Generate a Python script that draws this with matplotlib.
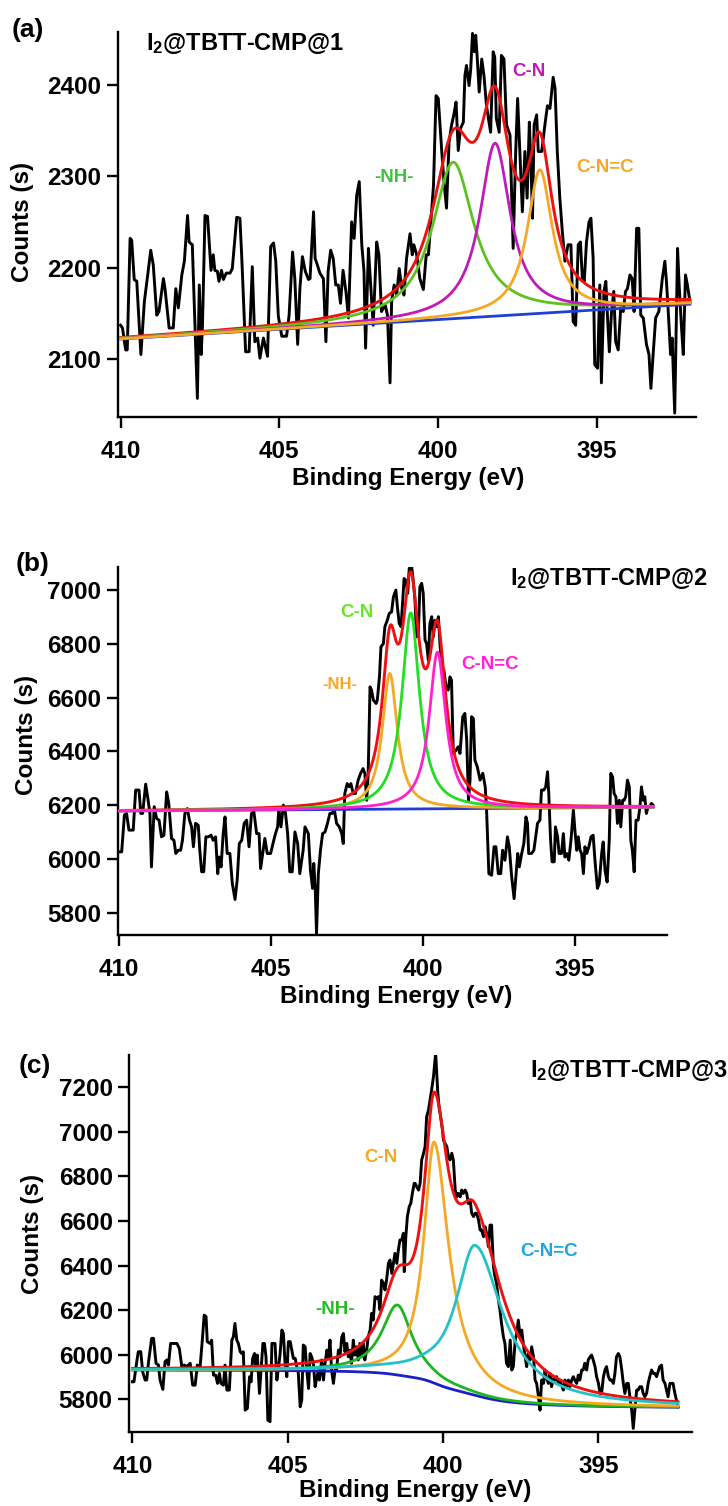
import numpy as np
import matplotlib
matplotlib.use("Agg")
import matplotlib.pyplot as plt

plt.rcParams['font.family'] = ['Liberation Sans', 'DejaVu Sans']
plt.rcParams['font.weight'] = 'bold'
plt.rcParams['mathtext.fontset'] = 'custom'
plt.rcParams['mathtext.rm'] = 'Liberation Sans:bold'
plt.rcParams['mathtext.it'] = 'Liberation Sans:bold'
plt.rcParams['mathtext.bf'] = 'Liberation Sans:bold'

# ---------------- measured spectra (binding energy eV, counts) ----------------
A_points = [
    (410.00, 2137), (409.94, 2134), (409.84, 2110), (409.79, 2110), (409.70, 2232), (409.65, 2230),
    (409.57, 2187), (409.49, 2185), (409.36, 2105), (409.25, 2163), (409.17, 2185), (409.05, 2219),
    (408.97, 2203), (408.86, 2148), (408.79, 2152), (408.65, 2188), (408.60, 2177), (408.47, 2134),
    (408.34, 2134), (408.26, 2177), (408.18, 2156), (408.07, 2192), (407.99, 2207), (407.89, 2257),
    (407.84, 2228), (407.74, 2225), (407.65, 2132), (407.58, 2057), (407.52, 2181), (407.46, 2105),
    (407.42, 2137), (407.34, 2257), (407.26, 2256), (407.15, 2197), (407.08, 2214), (407.03, 2197),
    (406.95, 2196), (406.90, 2185), (406.82, 2197), (406.76, 2187), (406.67, 2194), (406.55, 2194),
    (406.48, 2199), (406.34, 2255), (406.24, 2254), (406.18, 2210), (406.06, 2108), (405.95, 2108),
    (405.85, 2201), (405.77, 2119), (405.68, 2123), (405.61, 2101), (405.50, 2123), (405.37, 2103),
    (405.27, 2223), (405.18, 2227), (405.11, 2207), (405.03, 2147), (404.92, 2125), (404.77, 2125),
    (404.69, 2148), (404.58, 2217), (404.51, 2188), (404.42, 2116), (404.35, 2177), (404.27, 2212),
    (404.18, 2196), (404.08, 2187),
    (404.03, 2188), (403.92, 2261), (403.87, 2210), (403.80, 2203), (403.72, 2194), (403.61, 2188),
    (403.53, 2119), (403.46, 2196), (403.38, 2219), (403.30, 2210), (403.22, 2181), (403.14, 2181),
    (403.07, 2161), (402.99, 2197), (402.90, 2174), (402.82, 2145), (402.72, 2250), (402.64, 2232),
    (402.56, 2279), (402.48, 2294), (402.40, 2225), (402.33, 2196), (402.28, 2112), (402.19, 2221),
    (402.14, 2192), (402.04, 2137), (401.93, 2228), (401.86, 2214), (401.78, 2152), (401.66, 2159),
    (401.59, 2148), (401.51, 2074), (401.46, 2163), (401.38, 2181), (401.30, 2170), (401.22, 2199),
    (401.14, 2177), (401.07, 2170), (400.99, 2210), (400.88, 2237), (400.81, 2214), (400.76, 2225),
    (400.67, 2214), (400.57, 2188), (400.46, 2176), (400.37, 2214), (400.30, 2214), (400.23, 2247),
    (400.14, 2290), (400.06, 2388), (399.99, 2385), (399.88, 2327), (399.81, 2294), (399.73, 2265),
    (399.65, 2337), (399.57, 2356), (399.50, 2367), (399.43, 2381), (399.36, 2328), (399.29, 2352),
    (399.20, 2359), (399.15, 2410), (399.10, 2421), (399.02, 2399), (398.97, 2416), (398.91, 2456),
    (398.86, 2436), (398.81, 2454), (398.76, 2428), (398.70, 2392), (398.62, 2428), (398.55, 2410),
    (398.47, 2377), (398.41, 2363), (398.34, 2348), (398.26, 2436), (398.21, 2430), (398.16, 2363),
    (398.07, 2348), (398.00, 2432), (397.92, 2428),
    (397.84, 2356), (397.73, 2345), (397.63, 2221), (397.55, 2327), (397.49, 2385), (397.42, 2327),
    (397.34, 2261), (397.26, 2327), (397.19, 2276), (397.12, 2359), (397.07, 2312), (397.02, 2254),
    (396.97, 2356), (396.89, 2367), (396.84, 2327), (396.73, 2327), (396.63, 2356), (396.55, 2377),
    (396.47, 2374), (396.37, 2408), (396.31, 2396), (396.24, 2327), (396.16, 2276), (396.08, 2239),
    (396.00, 2207), (395.90, 2225), (395.81, 2225), (395.74, 2141), (395.66, 2137), (395.58, 2225),
    (395.51, 2228), (395.45, 2188), (395.39, 2185), (395.32, 2228), (395.24, 2250), (395.18, 2254),
    (395.11, 2210), (395.06, 2094), (394.97, 2090), (394.90, 2181), (394.85, 2074), (394.77, 2174),
    (394.71, 2185), (394.66, 2148), (394.60, 2108), (394.53, 2152), (394.46, 2174), (394.40, 2119),
    (394.32, 2110), (394.24, 2156), (394.16, 2152), (394.09, 2174), (394.03, 2177), (393.95, 2192),
    (393.88, 2188), (393.82, 2152), (393.74, 2243), (393.67, 2243), (393.61, 2148), (393.53, 2145),
    (393.43, 2116), (393.35, 2105), (393.29, 2068), (393.22, 2105), (393.14, 2145), (393.04, 2152),
    (392.93, 2188), (392.85, 2207), (392.80, 2185), (392.75, 2156), (392.67, 2105), (392.62, 2123),
    (392.54, 2041), (392.45, 2221), (392.40, 2181), (392.33, 2137), (392.27, 2105), (392.20, 2192),
    (392.14, 2181), (392.06, 2163),
]

B_points = [
    (410.00, 6026), (409.91, 6026), (409.82, 6163), (409.75, 6169), (409.67, 6107), (409.53, 6107),
    (409.45, 6256), (409.34, 6256), (409.28, 6169), (409.22, 6169), (409.12, 6278), (409.04, 6218),
    (408.98, 6169), (408.93, 5970), (408.84, 6194), (408.76, 6150), (408.68, 6144), (408.60, 6082),
    (408.52, 6088), (408.43, 6249), (408.36, 6206), (408.27, 6076), (408.19, 6069), (408.13, 6020),
    (408.05, 6032), (407.97, 6032), (407.91, 6069), (407.83, 6169), (407.75, 6187), (407.68, 6144),
    (407.61, 6119), (407.55, 6045), (407.48, 6132), (407.39, 6125), (407.34, 6032), (407.28, 5952),
    (407.21, 5952), (407.14, 6082), (407.06, 6082), (406.97, 6088), (406.90, 6069), (406.82, 6082),
    (406.75, 5945), (406.70, 6007), (406.64, 5970), (406.57, 6094), (406.51, 6156), (406.44, 6020),
    (406.35, 6020), (406.27, 5908), (406.18, 5849), (406.11, 5921), (406.04, 6057), (405.96, 6069),
    (405.88, 6132), (405.80, 6144), (405.72, 6045), (405.64, 6169), (405.56, 6175), (405.47, 6094),
    (405.39, 6094), (405.34, 5964), (405.27, 6020), (405.20, 6076), (405.12, 6020), (405.01, 6020),
    (404.92, 6063), (404.85, 6094), (404.78, 6119), (404.74, 6187), (404.67, 6119), (404.59, 6200),
    (404.52, 6169), (404.45, 6094), (404.38, 5952), (404.30, 5952), (404.21, 6100), (404.12, 6057),
    (404.05, 5945), (403.94, 6032), (403.88, 6119), (403.77, 6094), (403.70, 5958), (403.63, 5890),
    (403.59, 5983), (403.54, 5883), (403.50, 5722), (403.44, 5945), (403.37, 6032), (403.30, 6094),
    (403.22, 6100), (403.14, 6132), (403.06, 6169), (402.98, 6169), (402.93, 6194), (402.84, 6132),
    (402.75, 6119), (402.67, 6094), (402.62, 6057), (402.57, 6243), (402.49, 6280), (402.42, 6268),
    (402.37, 6280), (402.29, 6243), (402.22, 6243), (402.13, 6293), (402.05, 6318), (401.97, 6336),
    (401.91, 6318), (401.85, 6218), (401.80, 6318), (401.74, 6640), (401.69, 6628), (401.63, 6591),
    (401.54, 6578), (401.50, 6591), (401.43, 6677), (401.38, 6789), (401.30, 6801), (401.25, 6864),
    (401.17, 6888), (401.11, 6913), (401.03, 6919), (400.97, 6975), (400.89, 7000), (400.84, 6938),
    (400.78, 6876), (400.72, 6864), (400.67, 6950), (400.62, 7043), (400.56, 7037), (400.50, 6988),
    (400.45, 7081), (400.37, 7087), (400.32, 7037), (400.26, 6963), (400.21, 6826), (400.15, 6839),
    (400.10, 7012), (400.04, 7025), (399.99, 6988), (399.93, 6814), (399.88, 6801), (399.82, 6739),
    (399.77, 6876), (399.71, 6901), (399.66, 6826), (399.60, 6888), (399.55, 6864), (399.49, 6901),
    (399.44, 6801), (399.38, 6715), (399.31, 6702), (399.24, 6640), (399.17, 6628), (399.11, 6677),
    (399.06, 6665), (399.00, 6392), (398.91, 6404), (398.84, 6417), (398.78, 6392), (398.69, 6529),
    (398.62, 6541), (398.56, 6442), (398.50, 6218), (398.45, 6293), (398.40, 6529), (398.34, 6522),
    (398.29, 6367), (398.21, 6342), (398.12, 6293), (398.03, 6318), (397.95, 6268),
    (397.91, 6194), (397.83, 5945), (397.74, 5939), (397.66, 6045), (397.60, 6045), (397.52, 5945),
    (397.44, 5945), (397.38, 6032), (397.30, 5995), (397.22, 6082), (397.16, 6045), (397.08, 5933),
    (397.00, 5852), (396.95, 5921), (396.88, 6020), (396.83, 5970), (396.75, 6020), (396.68, 6057),
    (396.61, 6156), (396.56, 6132), (396.52, 6020), (396.43, 6020), (396.35, 6032), (396.29, 6082),
    (396.23, 6132), (396.15, 6144), (396.10, 6256), (396.02, 6256), (395.96, 6268), (395.90, 6324),
    (395.86, 6243), (395.80, 6069), (395.75, 5989), (395.68, 5989), (395.64, 6119), (395.57, 6082),
    (395.52, 6020), (395.44, 6020), (395.38, 6094), (395.33, 6007), (395.27, 6020), (395.20, 5995),
    (395.13, 6069), (395.05, 6181), (395.00, 6107), (394.94, 6032), (394.89, 6082), (394.83, 6032),
    (394.78, 6020), (394.72, 5945), (394.67, 6045), (394.61, 6020), (394.54, 6045), (394.47, 6082),
    (394.40, 6088), (394.34, 5995), (394.26, 5890), (394.20, 5908), (394.12, 6020), (394.07, 6063),
    (394.01, 5958), (393.94, 5914), (393.87, 6069), (393.82, 6318), (393.76, 6305), (393.71, 6243),
    (393.65, 6231), (393.60, 6132), (393.54, 6218), (393.49, 6119), (393.43, 6218), (393.38, 6218),
    (393.33, 6231), (393.27, 6293), (393.21, 6268), (393.16, 6069), (393.11, 6032), (393.05, 5952),
    (392.99, 6144), (392.92, 6144), (392.86, 6194), (392.81, 6268), (392.75, 6218), (392.70, 6231),
    (392.65, 6169), (392.59, 6194), (392.54, 6194), (392.48, 6206), (392.43, 6200),
]

C_points = [
    (410.00, 5879), (409.95, 5879), (409.86, 5969), (409.81, 6014), (409.73, 6014), (409.67, 5924),
    (409.59, 5887), (409.54, 5887), (409.48, 5969), (409.38, 6074), (409.32, 6074), (409.24, 5962),
    (409.16, 5954), (409.11, 5887), (409.02, 5845), (408.95, 5969), (408.89, 5977), (408.84, 5954),
    (408.77, 6051), (408.68, 6051), (408.57, 6051), (408.49, 6029), (408.41, 5947), (408.33, 5954),
    (408.25, 5947), (408.20, 5954), (408.14, 5962), (408.06, 5864), (407.98, 5864), (407.91, 5954),
    (407.82, 5947), (407.75, 6066), (407.69, 6178), (407.63, 6171), (407.59, 6059), (407.50, 6051),
    (407.45, 6066), (407.39, 5909), (407.32, 5909), (407.26, 5872), (407.20, 5917), (407.15, 5872),
    (407.07, 5864), (407.02, 5954), (406.96, 5842), (406.88, 5842), (406.80, 6066), (406.75, 6081),
    (406.70, 6141), (406.64, 6066), (406.59, 6051), (406.53, 6014), (406.48, 6006), (406.43, 6014),
    (406.37, 5752), (406.30, 5760), (406.23, 5902), (406.18, 5879), (406.13, 5984), (406.07, 6006),
    (406.02, 5932), (405.98, 5999), (405.91, 5827), (405.87, 5909), (405.80, 6051), (405.75, 6051),
    (405.70, 5991), (405.64, 5707), (405.57, 5700), (405.51, 6051), (405.46, 6051), (405.41, 6051),
    (405.35, 5887), (405.30, 5939), (405.25, 5999), (405.19, 6111), (405.14, 6096), (405.09, 5969),
    (405.03, 5902), (404.98, 6059), (404.92, 6059), (404.87, 6021), (404.82, 5984), (404.76, 5984),
    (404.71, 5947), (404.66, 5917), (404.60, 5767), (404.55, 5797), (404.50, 6044), (404.44, 6036),
    (404.39, 5932), (404.33, 5849), (404.28, 6006), (404.23, 5991), (404.17, 5954), (404.12, 5857),
    (404.07, 5894), (404.01, 5932),
    (403.98, 5887), (403.91, 5977), (403.85, 5887), (403.80, 5962), (403.74, 6021), (403.69, 5991),
    (403.64, 6066), (403.59, 5932), (403.53, 5872), (403.48, 5932), (403.43, 5932), (403.37, 6021),
    (403.32, 5991), (403.26, 6081), (403.21, 6096), (403.16, 6014), (403.10, 6051), (403.05, 5991),
    (403.00, 6021), (402.95, 5962), (402.89, 6066), (402.84, 5999), (402.79, 6036), (402.73, 5977),
    (402.68, 6051), (402.62, 5991), (402.57, 6051), (402.52, 5977), (402.46, 6021), (402.41, 6081),
    (402.35, 6111), (402.30, 6186), (402.25, 6156), (402.19, 6261), (402.14, 6253), (402.08, 6261),
    (402.03, 6201), (401.98, 6335), (401.92, 6321), (401.87, 6291), (401.82, 6335), (401.76, 6410),
    (401.71, 6425), (401.65, 6365), (401.60, 6410), (401.55, 6455), (401.49, 6410), (401.44, 6470),
    (401.39, 6515), (401.33, 6515), (401.28, 6545), (401.25, 6373), (401.20, 6530), (401.15, 6620),
    (401.09, 6665), (401.04, 6679), (400.99, 6724), (400.93, 6769), (400.90, 6769), (400.85, 6754),
    (400.79, 6739), (400.74, 6769), (400.69, 6874), (400.63, 6904), (400.58, 6934), (400.53, 7068),
    (400.47, 7098), (400.42, 7143), (400.37, 7188), (400.31, 7248), (400.27, 7308), (400.24, 7353),
    (400.20, 7248), (400.17, 7173), (400.13, 7113), (400.08, 7068), (400.02, 7009), (399.99, 6964),
    (399.94, 6949), (399.88, 6934), (399.83, 6889), (399.78, 6874), (399.72, 6904), (399.67, 6874),
    (399.61, 6739), (399.56, 6709), (399.51, 6724), (399.45, 6709), (399.40, 6739), (399.35, 6724),
    (399.29, 6739), (399.24, 6724), (399.19, 6679), (399.13, 6694), (399.08, 6635), (399.02, 6620),
    (398.97, 6635), (398.92, 6635), (398.86, 6605), (398.81, 6560), (398.76, 6560), (398.70, 6530),
    (398.65, 6575), (398.60, 6545), (398.54, 6485), (398.49, 6582), (398.44, 6582), (398.38, 6395),
    (398.33, 6350), (398.28, 6321), (398.22, 6246), (398.17, 6201), (398.12, 6141), (398.06, 6081),
    (398.01, 6051), (397.96, 5962), (397.90, 5947),
    (397.84, 6066), (397.79, 5932), (397.74, 5947), (397.68, 6066), (397.63, 6096), (397.58, 6156),
    (397.52, 6081), (397.47, 6111), (397.42, 6051), (397.36, 5991), (397.31, 5947), (397.26, 6006),
    (397.20, 5977), (397.15, 6036), (397.09, 5991), (397.04, 5887), (396.99, 5872), (396.93, 5812),
    (396.88, 5752), (396.83, 5887), (396.77, 5872), (396.72, 5932), (396.67, 5894), (396.61, 5872),
    (396.56, 5917), (396.51, 5857), (396.45, 5894), (396.40, 5887), (396.35, 5902), (396.29, 5872),
    (396.24, 5887), (396.19, 5864), (396.13, 5842), (396.08, 5887), (396.02, 5857), (395.97, 5887),
    (395.92, 5857), (395.86, 5887), (395.81, 5902), (395.76, 5887), (395.70, 5872), (395.65, 5909),
    (395.60, 5887), (395.54, 5932), (395.49, 5932), (395.44, 5962), (395.38, 5932), (395.33, 5977),
    (395.27, 5991), (395.22, 5999), (395.17, 5977), (395.11, 5947), (395.06, 5902), (395.00, 5872),
    (394.95, 5827), (394.90, 5827), (394.84, 5902), (394.79, 5932), (394.74, 5947), (394.68, 5902),
    (394.63, 5887), (394.58, 5887), (394.52, 5872), (394.47, 5917), (394.42, 5991), (394.36, 6006),
    (394.31, 5991), (394.25, 5932), (394.20, 5872), (394.15, 5827), (394.09, 5872), (394.04, 5872),
    (393.99, 5812), (393.93, 5752), (393.88, 5670), (393.83, 5752), (393.77, 5842), (393.72, 5842),
    (393.67, 5857), (393.61, 5857), (393.56, 5827), (393.51, 5812), (393.45, 5827), (393.40, 5872),
    (393.35, 5902), (393.29, 5932), (393.24, 5917), (393.19, 5917), (393.13, 5902), (393.08, 5924),
    (393.03, 5947), (392.97, 5954), (392.92, 5887), (392.86, 5872), (392.81, 5842), (392.76, 5812),
    (392.70, 5872), (392.65, 5872), (392.60, 5872), (392.54, 5827), (392.49, 5797), (392.44, 5767),
]

# ---------------- fitted components ----------------
# (label, centre eV, height above background, HWHM high-BE side, HWHM low-BE side)
A_background = (2122, 2160)          # linear, at high-BE end and low-BE end
A_components = [("-NH-", 399.52, 171, 0.80, 0.80),
                ("C-N", 398.20, 189, 0.58, 0.58),
                ("C-N=C", 396.79, 157, 0.48, 0.48)]
B_background = (6178, 6192)          # linear
B_components = [("-NH-", 401.09, 505, 0.30, 0.30),
                ("C-N", 400.40, 730, 0.35, 0.35),
                ("C-N=C", 399.52, 583, 0.33, 0.33)]
C_background = (5932, 5765)          # Shirley step ends
C_components = [("-NH-", 401.47, 314, 0.61, 0.57),
                ("C-N", 400.29, 1081, 0.40, 0.57),
                ("C-N=C", 398.97, 673, 0.75, 1.07)]

A_colors = {"-NH-": "#5ec21e", "C-N": "#c01ab8", "C-N=C": "#f5a823"}
B_colors = {"-NH-": "#f5a823", "C-N": "#22dd22", "C-N=C": "#ff22cc"}
C_colors = {"-NH-": "#1fb51f", "C-N": "#f5a823", "C-N=C": "#22c2c6"}
A_label_colors = {"-NH-": "#3cc43c", "C-N": "#c01ab8", "C-N=C": "#f5a823"}
B_label_colors = {"-NH-": "#f5a823", "C-N": "#66e622", "C-N=C": "#ff22dd"}
C_label_colors = {"-NH-": "#22bb22", "C-N": "#f5a823", "C-N=C": "#1aa6e6"}

A_yticks = [2100, 2200, 2300, 2400]
B_yticks = [5800, 6000, 6200, 6400, 6600, 6800, 7000]
C_yticks = [5800, 6000, 6200, 6400, 6600, 6800, 7000, 7200]
x_ticks = [410, 405, 400, 395]
titles = [r"I$_2$@TBTT-CMP@1", r"I$_2$@TBTT-CMP@2", r"I$_2$@TBTT-CMP@3"]
panel_tags = ["(a)", "(b)", "(c)"]

RED = "#ee1111"
BLUE = "#1f3fd6"
BLUE_C = "#1a1fc8"

W, H = 728, 1506
fig = plt.figure(figsize=(W / 100, H / 100), dpi=100)


def ftext(x, y, s, **kw):
    fig.text(x / W, 1 - y / H, s, **kw)


def line_shape(x, c, h, w_hi, w_lo):
    w = np.where(x >= c, w_hi, w_lo)
    u = (x - c) / w
    return h / (1 + u ** 2)


def setup_axes(rect, xlim, ylim, yticks):
    ax = fig.add_axes(rect)
    ax.set_xlim(*xlim)
    ax.set_ylim(*ylim)
    ax.set_xticks(x_ticks)
    ax.set_yticks(yticks)
    for s in ["top", "right"]:
        ax.spines[s].set_visible(False)
    for s in ["left", "bottom"]:
        ax.spines[s].set_linewidth(1.7)
    ax.tick_params(axis="both", direction="out", length=8, width=1.7, labelsize=17.5)
    ax.tick_params(axis="x", pad=8.5)
    ax.tick_params(axis="y", pad=4)
    for lab in ax.get_xticklabels() + ax.get_yticklabels():
        lab.set_fontweight("bold")
    return ax


def draw_panel(ax, points, bg_ends, comps, colors, shirley=False, bg_color=BLUE):
    pts = np.array(points, dtype=float)
    ax.plot(pts[:, 0], pts[:, 1], color="black", lw=2.1, zorder=2)
    x = np.linspace(pts[:, 0].max(), pts[:, 0].min(), 800)
    peaks = [line_shape(x, c, h, wh, wl) for _, c, h, wh, wl in comps]
    total = np.sum(peaks, axis=0)
    if shirley:
        xa = x[::-1]
        ta = total[::-1]
        cum = np.concatenate([[0], np.cumsum((ta[1:] + ta[:-1]) / 2 * np.diff(xa))])
        bga = bg_ends[1] + (bg_ends[0] - bg_ends[1]) * cum / cum[-1]
        bg = bga[::-1]
    else:
        bg = bg_ends[0] + (bg_ends[1] - bg_ends[0]) * (x[0] - x) / (x[0] - x[-1])
    ax.plot(x, bg, color=bg_color, lw=2.0, zorder=3)
    ax.plot(x, bg + total, color=RED, lw=2.1, zorder=4)
    for (name, *_), p in zip(comps, peaks):
        ax.plot(x, bg + p, color=colors[name], lw=2.0, zorder=5)


axA = setup_axes([0.1617, 0.7233, 0.7943, 0.2557], (410.09, 391.87), (2037, 2458), A_yticks)
draw_panel(axA, A_points, A_background, A_components, A_colors)
axB = setup_axes([0.1617, 0.3792, 0.7541, 0.2445], (410.04, 391.98), (5717, 7087), B_yticks)
draw_panel(axB, B_points, B_background, B_components, B_colors)
axC = setup_axes([0.1776, 0.0493, 0.7725, 0.2502], (410.10, 392.0), (5655, 7345), C_yticks)
draw_panel(axC, C_points, C_background, C_components, C_colors, shirley=True, bg_color=BLUE_C)

# axis labels
lab_kw = dict(fontsize=17.5, fontweight="bold", ha="center", va="center")
ftext(22, 222, "Counts (s)", rotation=90, **lab_kw)
ftext(408, 479, "Binding Energy (eV)", **lab_kw)
ftext(26, 735, "Counts (s)", rotation=90, **lab_kw)
ftext(396, 997, "Binding Energy (eV)", **lab_kw)
ftext(33, 1234, "Counts (s)", rotation=90, **lab_kw)
ftext(415, 1490, "Binding Energy (eV)", **lab_kw)

# panel tags and sample names
tag_kw = dict(fontsize=19, fontweight="bold", ha="center", va="center")
ftext(28, 30, panel_tags[0], **tag_kw)
ftext(33, 564, panel_tags[1], **tag_kw)
ftext(35, 1066, panel_tags[2], **tag_kw)
name_kw = dict(fontsize=17, fontweight="bold", ha="left", va="baseline")
ftext(146, 50, titles[0], **name_kw)
ftext(510, 585, titles[1], **name_kw)
ftext(530, 1077, titles[2], **name_kw)

# component labels
comp_kw = dict(fontsize=13.5, fontweight="bold", ha="center", va="center")
ftext(394, 178, "-NH-", color=A_label_colors["-NH-"], **comp_kw)
ftext(529, 72, "C-N", color=A_label_colors["C-N"], **comp_kw)
ftext(605, 168, "C-N=C", color=A_label_colors["C-N=C"], **comp_kw)
ftext(357, 612, "C-N", color=B_label_colors["C-N"], **comp_kw)
ftext(340, 684, "-NH-", color=B_label_colors["-NH-"], fontsize=12,
      fontweight="bold", ha="center", va="center")
ftext(490, 664, "C-N=C", color=B_label_colors["C-N=C"], **comp_kw)
ftext(381, 1158, "C-N", color=C_label_colors["C-N"], **comp_kw)
ftext(335, 1309, "-NH-", color=C_label_colors["-NH-"], **comp_kw)
ftext(549, 1251, "C-N=C", color=C_label_colors["C-N=C"], **comp_kw)

fig.savefig("out.png", dpi=100)
